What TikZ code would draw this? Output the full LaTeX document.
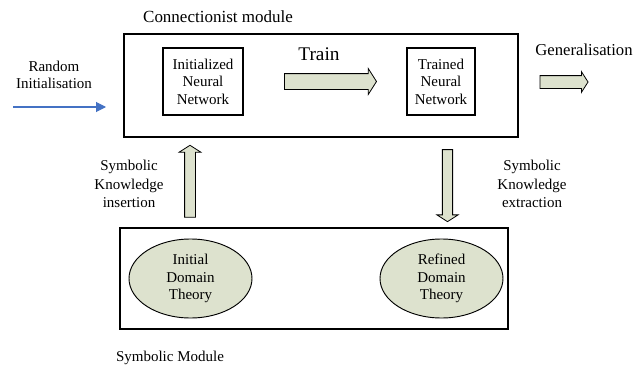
\documentclass[tikz,border=0pt]{standalone}
\usepackage{fontspec}
\setmainfont{Liberation Serif}
\usetikzlibrary{shapes.geometric,shapes.arrows,arrows.meta}
\definecolor{sage}{RGB}{221,226,206}
\definecolor{lineblue}{RGB}{68,114,196}
\tikzset{
  module/.style={draw,line width=0.8pt,inner sep=0pt},
  netbox/.style={draw,line width=0.8pt,inner sep=0pt,align=center,font=\fontsize{11.25}{13.1}\selectfont},
  theory/.style={draw,ellipse,fill=sage,line width=0.7pt,inner sep=0pt,align=center,font=\fontsize{11.25}{13.1}\selectfont,minimum width=92.25pt,minimum height=59.25pt},
  blockarrow/.style={single arrow,draw,fill=sage,line width=0.6pt,inner sep=0pt,text depth=0pt,single arrow tip angle=115,single arrow head indent=0pt},
  label/.style={align=center,font=\fontsize{11.25}{13.9}\selectfont}
}
\begin{document}
\begin{tikzpicture}[x=0.75pt,y=-0.75pt]
  \useasboundingbox (0,0) rectangle (643,371);
  % connectionist module
  \node[module,minimum width=295.5pt,minimum height=77.25pt] (conn) at (321,85.5) {};
  \node[font=\fontsize{12.75}{14}\selectfont] (connlbl) at (218,17) {Connectionist module};
  \node[netbox,minimum width=60pt,minimum height=50.25pt] (initnn) at (203,81.5) {Initialized\\Neural\\Network};
  \node[netbox,minimum width=51pt,minimum height=50.25pt] (trainnn) at (441,81.5) {Trained\\Neural\\Network};
  \node[font=\fontsize{14.5}{16}\selectfont] (trainlbl) at (319,54) {Train};
  \node[blockarrow,minimum height=69pt,text height=11.25pt,single arrow head extend=3.75pt] (train) at (328,81.5) {};
  \node[font=\fontsize{12.5}{14}\selectfont] (genlbl) at (584,50) {Generalisation};
  \node[blockarrow,minimum height=36pt,text height=9pt,single arrow head extend=3pt] (gen) at (562,82) {};
  % random start
  \node[label,font=\fontsize{11.25}{13.1}\selectfont] (randlbl) at (54,75) {Random\\Initialisation};
  \coordinate (randstart) at (13,107);
  \coordinate (randend) at (106,107);
  \draw[lineblue,line width=0.8pt,-{Triangle[length=7.5pt,width=7.5pt]}] (randstart) -- (randend);
  % symbolic module
  \node[module,minimum width=291pt,minimum height=75.75pt] (sym) at (314,278.5) {};
  \node[theory] (initdt) at (190.5,278.5) {Initial\\Domain\\Theory};
  \node[theory] (refdt) at (441.5,278.5) {Refined\\Domain\\Theory};
  \node[font=\fontsize{11.25}{13}\selectfont] (symlbl) at (170,358) {Symbolic Module};
  % insertion and extraction
  \node[blockarrow,rotate=90,minimum height=54pt,text height=7.5pt,single arrow head extend=4.1pt] (insert) at (190,183) {};
  \node[blockarrow,rotate=-90,minimum height=54pt,text height=7.1pt,single arrow head extend=4.1pt] (extract) at (447.5,184) {};
  \node[label] (insertlbl) at (129,184) {Symbolic\\Knowledge\\insertion};
  \node[label] (extractlbl) at (532,184) {Symbolic\\Knowledge\\extraction};
\end{tikzpicture}
\end{document}
